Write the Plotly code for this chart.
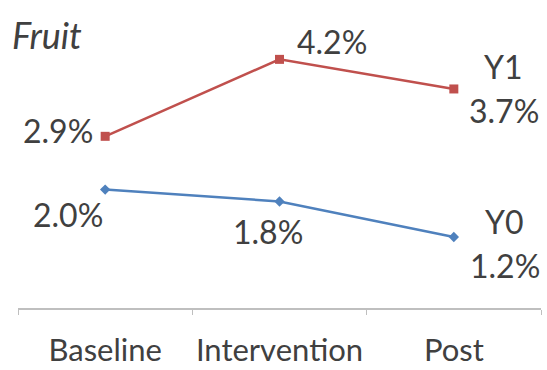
import plotly.graph_objects as go

categories = ["Baseline", "Intervention", "Post"]
y1_values = [2.9, 4.2, 3.7]
y0_values = [2.0, 1.8, 1.2]
series_names = ["Y1", "Y0"]
title_text = "Fruit"

RED = "#C0504D"
BLUE = "#4F81BD"
TXT = "#404040"
FONT = "Lato"
FS = 32

fig = go.Figure()
fig.add_trace(go.Scatter(x=categories, y=y1_values, mode="lines+markers",
                         line=dict(color=RED, width=2.5),
                         marker=dict(symbol="square", size=9, color=RED),
                         name=series_names[0], showlegend=False))
fig.add_trace(go.Scatter(x=categories, y=y0_values, mode="lines+markers",
                         line=dict(color=BLUE, width=2.5),
                         marker=dict(symbol="diamond", size=8, color=BLUE),
                         name=series_names[1], showlegend=False))

def pct(v):
    return f"{v:.1f}%"

# (xshift, yshift) offsets for each label relative to its point
red_offsets = [(-47, 6), (52, 18), (50, -22)]
blue_offsets = [(-37, -25), (-12, -30), (51, -29)]

annotations = []
for vals, offs, name, nshift in [(y1_values, red_offsets, series_names[0], (50, 22)),
                                  (y0_values, blue_offsets, series_names[1], (51, 15))]:
    for c, v, (dx, dy) in zip(categories, vals, offs):
        annotations.append(dict(x=c, y=v, xref="x", yref="y", text=pct(v),
                                showarrow=False, xshift=dx, yshift=dy,
                                font=dict(family=FONT, size=FS, color=TXT)))
    annotations.append(dict(x=categories[-1], y=vals[-1], xref="x", yref="y", text=name,
                            showarrow=False, xshift=nshift[0], yshift=nshift[1],
                            font=dict(family=FONT, size=FS, color=TXT)))

annotations.append(dict(x=(10 - 18) / 523, y=1 - (35 - 12) / 296, xref="paper", yref="paper",
                        text=f"<i>{title_text}</i>",
                        showarrow=False, xanchor="left", yanchor="middle",
                        font=dict(family=FONT, size=36, color=TXT)))

fig.update_layout(
    width=547, height=370,
    margin=dict(l=18, r=6, t=12, b=62),
    paper_bgcolor="white", plot_bgcolor="white",
    annotations=annotations,
    xaxis=dict(type="category", range=[-0.5, 2.5], showgrid=False, zeroline=False,
               showline=True, linecolor="#BFBFBF", linewidth=1.5,
               ticks="outside", ticklen=5, tickcolor="#BFBFBF", tickson="boundaries",
               ticklabelstandoff=14, automargin=False, tickangle=0,
               tickfont=dict(family=FONT, size=31, color=TXT)),
    yaxis=dict(range=[0, 5], visible=False, showgrid=False, zeroline=False),
)

fig.write_html("out.html")
